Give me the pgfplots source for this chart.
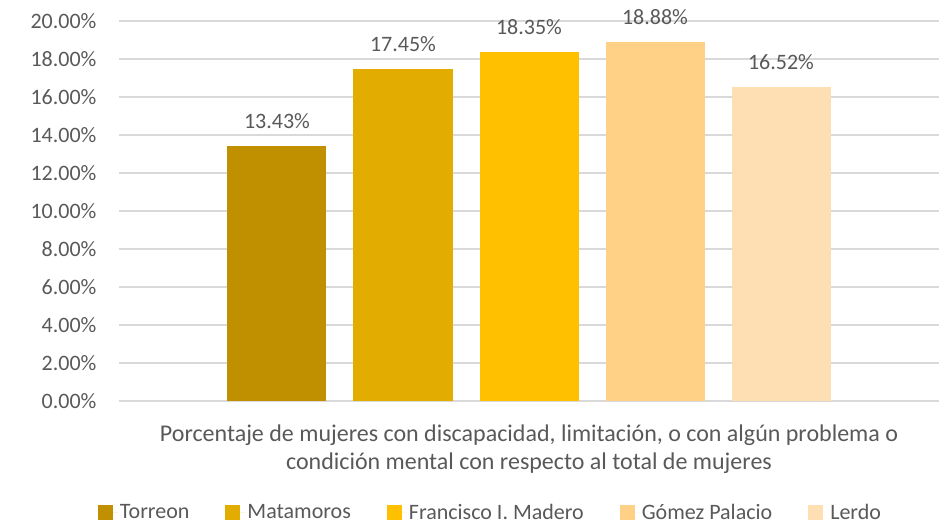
\documentclass[border=0pt]{standalone}
\usepackage{fontspec}
\setmainfont{Carlito}
\usepackage{pgfplots}
\pgfplotsset{compat=1.18}
\definecolor{c1}{HTML}{C09000}
\definecolor{c2}{HTML}{E2AC00}
\definecolor{c3}{HTML}{FFC000}
\definecolor{c4}{HTML}{FFD186}
\definecolor{c5}{HTML}{FEDEB3}
\definecolor{txt}{HTML}{595959}
\definecolor{gridc}{HTML}{D9D9D9}
\newcommand\catlabel{Porcentaje de mujeres con discapacidad, limitación, o con algún problema o\\condición mental con respecto al total de mujeres}
\begin{document}
\begin{tikzpicture}
\useasboundingbox (-119pt,-122pt) rectangle (821pt,401pt);
\begin{axis}[
  at={(0pt,0pt)}, anchor=south west,
  scale only axis, width=820pt, height=380pt,
  ymin=0, ymax=20, ytick={0,2,...,20},
  xmin=-1, xmax=1, xtick={0},
  xticklabels={\catlabel},
  ybar=27pt, bar width=99pt,
  axis x line*=bottom, axis y line*=left,
  x axis line style={draw=gridc, line width=1.5pt, -},
  y axis line style={draw=none},
  major tick length=0pt,
  ymajorgrids, grid style={draw=gridc, line width=1.5pt},
  tick label style={font=\fontsize{22}{27}\selectfont, text=txt},
  yticklabel style={xshift=-19pt},
  xticklabel style={align=center, yshift=-20pt, font=\fontsize{24}{28}\selectfont},
  /pgf/number format/assume math mode=true,
  yticklabel={\pgfmathprintnumber[fixed,fixed zerofill,precision=2]{\tick}\%},
  nodes near coords={\pgfmathprintnumber[fixed,fixed zerofill,precision=2]{\pgfplotspointmeta}\%},
  nodes near coords style={font=\fontsize{22}{26}\selectfont, text=txt, yshift=14pt},
  legend style={at={(0.453,-0.293)}, anchor=center, draw=none, fill=none,
    legend columns=5, font=\fontsize{22}{26}\selectfont, text=txt,
    /tikz/every even column/.append style={column sep=34pt}},
  legend image code/.code={\fill[#1] (0pt,-7.5pt) rectangle (15pt,7.5pt); \path (0pt,0pt) -- (20pt,0pt);},
]
\addplot[fill=c1, draw=none] coordinates {(0,13.43)};
\addplot[fill=c2, draw=none] coordinates {(0,17.45)};
\addplot[fill=c3, draw=none] coordinates {(0,18.35)};
\addplot[fill=c4, draw=none] coordinates {(0,18.88)};
\addplot[fill=c5, draw=none] coordinates {(0,16.52)};
\legend{Torreon, Matamoros, Francisco I. Madero, Gómez Palacio, Lerdo}
\end{axis}
\end{tikzpicture}
\end{document}
